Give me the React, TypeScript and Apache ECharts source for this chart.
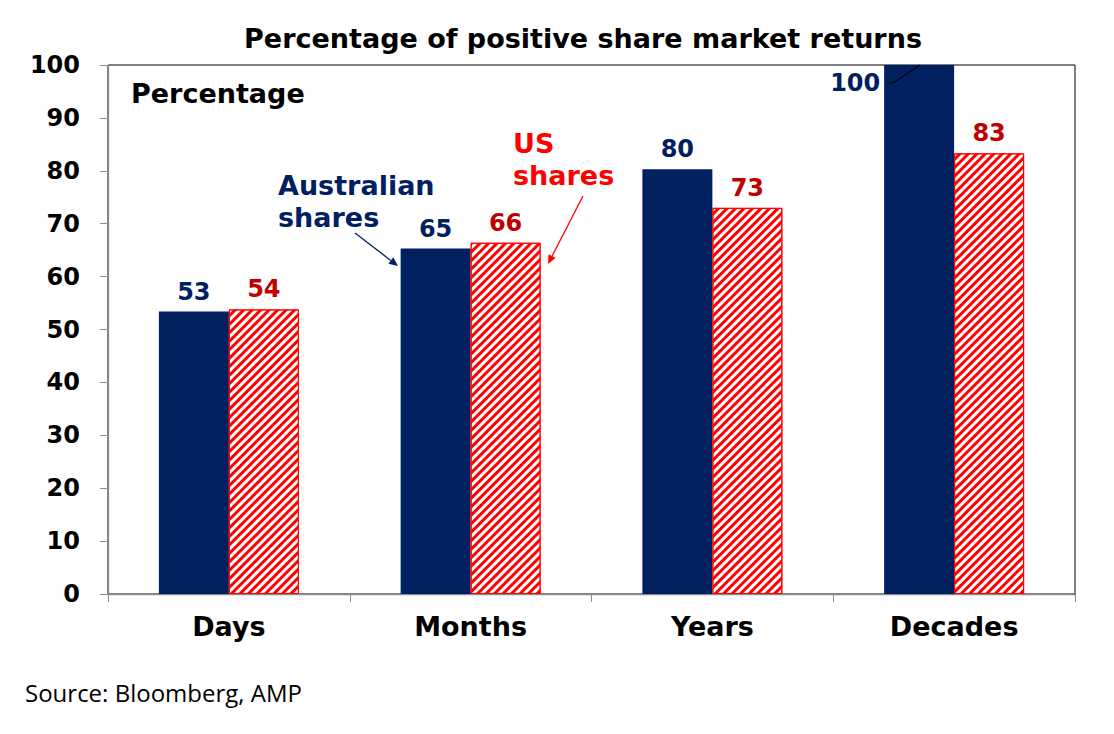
import React, { useEffect, useRef } from "react";
import * as echarts from "echarts";

const categories = ["Days", "Months", "Years", "Decades"];
const australianShares = [53.4, 65.3, 80.3, 100];
const usShares = [53.8, 66.4, 73.0, 83.3];
const yTicks = { min: 0, max: 100, interval: 10 };

const NAVY = "#002060";
const RED = "#FF0000";
const DARK_RED = "#C00000";
const FONT = "DejaVu Sans";

function arrow(x1: number, y1: number, x2: number, y2: number, color: string) {
  const ang = Math.atan2(y2 - y1, x2 - x1);
  const len = 9;
  const w = 4;
  const bx = x2 - len * Math.cos(ang);
  const by = y2 - len * Math.sin(ang);
  const px = -Math.sin(ang) * w;
  const py = Math.cos(ang) * w;
  return [
    { type: "line", z: 20, shape: { x1, y1, x2: bx, y2: by }, style: { stroke: color, lineWidth: 1.3 }, silent: true },
    {
      type: "polygon",
      z: 20,
      shape: { points: [[x2, y2], [bx + px, by + py], [bx - px, by - py]] },
      style: { fill: color },
      silent: true,
    },
  ];
}

export default function App() {
  const ref = useRef<HTMLDivElement>(null);
  useEffect(() => {
    document.body.style.margin = "0";
    if (!ref.current) return;
    const chart = echarts.init(ref.current, undefined, { renderer: "svg" });
    const labelStyle = { fontFamily: FONT, fontWeight: "bold" as const, fontSize: 24 };
    chart.setOption({
      animation: false,
      backgroundColor: "#fff",
      grid: { left: 108, right: 39, top: 65, bottom: 140, show: true, borderColor: "#000", borderWidth: 1 },
      xAxis: {
        type: "category",
        data: categories,
        axisLine: { lineStyle: { color: "#8c8c8c", width: 1.3 } },
        axisTick: { show: true, length: 8, lineStyle: { color: "#8c8c8c" } },
        axisLabel: { fontFamily: FONT, fontWeight: "bold", fontSize: 27, color: "#000", margin: 19 },
      },
      yAxis: {
        type: "value",
        min: yTicks.min,
        max: yTicks.max,
        interval: yTicks.interval,
        splitLine: { show: false },
        axisLine: { show: true, lineStyle: { color: "#8c8c8c", width: 1.3 } },
        axisTick: { show: true, length: 8, lineStyle: { color: "#8c8c8c" } },
        axisLabel: { fontFamily: FONT, fontWeight: "bold", fontSize: 24, color: "#000", margin: 28 },
      },
      series: [
        {
          name: "Australian shares",
          type: "bar",
          barWidth: 70,
          barGap: "0%",
          itemStyle: { color: NAVY },
          label: {
            show: true,
            position: "top",
            distance: 8,
            color: NAVY,
            ...labelStyle,
            formatter: (p: any) => String(Math.round(p.value)),
          },
          data: australianShares.map((v, i) =>
            i === 3 ? { value: v, label: { position: [-54, 6] } } : v
          ),
        },
        {
          name: "US shares",
          type: "bar",
          barWidth: 70,
          barGap: "0%",
          itemStyle: {
            color: "#fff",
            borderColor: RED,
            borderWidth: 1,
            decal: {
              symbol: "rect",
              symbolSize: 1,
              color: RED,
              dashArrayX: [1, 0],
              dashArrayY: [3, 3],
              rotation: -Math.PI / 4,
            },
          },
          label: {
            show: true,
            position: "top",
            distance: 8,
            color: DARK_RED,
            ...labelStyle,
            formatter: (p: any) => String(Math.round(p.value)),
          },
          data: usShares,
        },
      ],
      graphic: [
        {
          type: "text",
          x: 583,
          y: 38,
          style: {
            text: "Percentage of positive share market returns",
            fontFamily: FONT,
            fontWeight: "bold",
            fontSize: 27,
            fill: "#000",
            align: "center",
            verticalAlign: "middle",
          },
        },
        {
          type: "text",
          x: 131,
          y: 93,
          style: { text: "Percentage", fontFamily: FONT, fontWeight: "bold", fontSize: 27, fill: "#000", verticalAlign: "middle" },
        },
        {
          type: "text",
          x: 278,
          y: 185,
          style: { text: "Australian", fontFamily: FONT, fontWeight: "bold", fontSize: 27, fill: NAVY, verticalAlign: "middle" },
        },
        {
          type: "text",
          x: 278,
          y: 217,
          style: { text: "shares", fontFamily: FONT, fontWeight: "bold", fontSize: 27, fill: NAVY, verticalAlign: "middle" },
        },
        {
          type: "text",
          x: 513,
          y: 143,
          style: { text: "US", fontFamily: FONT, fontWeight: "bold", fontSize: 27, fill: RED, verticalAlign: "middle" },
        },
        {
          type: "text",
          x: 513,
          y: 175,
          style: { text: "shares", fontFamily: FONT, fontWeight: "bold", fontSize: 27, fill: RED, verticalAlign: "middle" },
        },
        ...arrow(355, 233, 398, 266, NAVY),
        ...arrow(583, 196, 548, 264, RED),
        {
          type: "polyline",
          z: 20,
          shape: { points: [[887, 83], [893, 83], [920, 65]] },
          style: { stroke: "#000", lineWidth: 1.2, fill: null },
          silent: true,
        },
        {
          type: "text",
          x: 25,
          y: 692,
          style: { text: "Source: Bloomberg, AMP", fontFamily: "Open Sans", fontSize: 24, fill: "#000", verticalAlign: "middle" },
        },
      ],
    });
    return () => chart.dispose();
  }, []);
  return <div ref={ref} style={{ width: 1114, height: 734 }} />;
}
